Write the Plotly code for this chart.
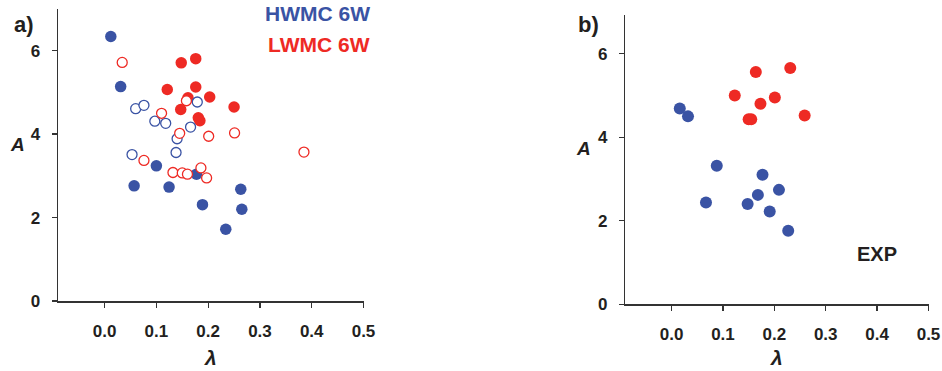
import plotly.graph_objects as go

W, H = 942, 371

# ---- data ----
a_hw_filled_x = [0.012, 0.031, 0.057, 0.100, 0.1245, 0.1775, 0.189, 0.263, 0.265, 0.234]
a_hw_filled_y = [6.34, 5.14, 2.76, 3.24, 2.73, 3.04, 2.31, 2.68, 2.20, 1.72]
a_hw_open_x = [0.053, 0.060, 0.076, 0.097, 0.118, 0.140, 0.138, 0.166, 0.179]
a_hw_open_y = [3.51, 4.61, 4.69, 4.31, 4.26, 3.89, 3.56, 4.17, 4.77]
a_lw_filled_x = [0.148, 0.176, 0.121, 0.176, 0.203, 0.161, 0.147, 0.181, 0.184, 0.250]
a_lw_filled_y = [5.71, 5.81, 5.07, 5.13, 4.89, 4.87, 4.59, 4.39, 4.32, 4.65]
a_lw_open_x = [0.034, 0.110, 0.158, 0.145, 0.201, 0.251, 0.385, 0.076, 0.132, 0.150, 0.160, 0.186, 0.197]
a_lw_open_y = [5.72, 4.50, 4.80, 4.02, 3.95, 4.03, 3.57, 3.37, 3.08, 3.07, 3.04, 3.19, 2.95]

b_hw_x = [0.016, 0.032, 0.088, 0.067, 0.148, 0.168, 0.177, 0.209, 0.191, 0.227]
b_hw_y = [4.69, 4.50, 3.32, 2.44, 2.40, 2.62, 3.10, 2.74, 2.22, 1.76]
b_lw_x = [0.164, 0.231, 0.123, 0.173, 0.201, 0.150, 0.155, 0.259]
b_lw_y = [5.56, 5.66, 5.00, 4.80, 4.95, 4.43, 4.43, 4.52]

x_ticks = [0.0, 0.1, 0.2, 0.3, 0.4, 0.5]
x_ticktext = ["0.0", "0.1", "0.2", "0.3", "0.4", "0.5"]
y_ticks = [0, 2, 4, 6]
y_ticktext = ["0", "2", "4", "6"]

BLUE = "#3A53A4"
RED = "#EE2A24"
AXC = "#333333"
FONT = "Liberation Sans, Arial, sans-serif"


def px_x(p):
    return p / W


def px_y(p):
    return 1 - p / H


fig = go.Figure()

# panel a
fig.add_trace(go.Scatter(x=a_hw_filled_x, y=a_hw_filled_y, mode="markers",
                         marker=dict(size=11.5, color=BLUE, line=dict(width=0)),
                         xaxis="x", yaxis="y", showlegend=False))
fig.add_trace(go.Scatter(x=a_lw_filled_x, y=a_lw_filled_y, mode="markers",
                         marker=dict(size=11.5, color=RED, line=dict(width=0)),
                         xaxis="x", yaxis="y", showlegend=False))
fig.add_trace(go.Scatter(x=a_hw_open_x, y=a_hw_open_y, mode="markers",
                         marker=dict(size=10, color="white", line=dict(width=1.3, color=BLUE)),
                         xaxis="x", yaxis="y", showlegend=False))
fig.add_trace(go.Scatter(x=a_lw_open_x, y=a_lw_open_y, mode="markers",
                         marker=dict(size=10, color="white", line=dict(width=1.3, color=RED)),
                         xaxis="x", yaxis="y", showlegend=False))

# panel b
fig.add_trace(go.Scatter(x=b_hw_x, y=b_hw_y, mode="markers",
                         marker=dict(size=12, color=BLUE, line=dict(width=0)),
                         xaxis="x2", yaxis="y2", showlegend=False))
fig.add_trace(go.Scatter(x=b_lw_x, y=b_lw_y, mode="markers",
                         marker=dict(size=12, color=RED, line=dict(width=0)),
                         xaxis="x2", yaxis="y2", showlegend=False))

tickfont = dict(family=FONT, size=17, color="#231f20", weight="bold")

common_x = dict(range=[-0.09, 0.5], showline=True, linecolor=AXC, linewidth=1.5,
                ticks="outside", ticklen=5, tickwidth=1.3, tickcolor=AXC,
                tickvals=x_ticks, ticktext=x_ticktext, tickfont=tickfont,
                showgrid=False, zeroline=False, ticklabelstandoff=9, fixedrange=True,
                automargin=False)
common_y = dict(showline=True, linecolor=AXC, linewidth=1.5,
                ticks="outside", ticklen=5, tickwidth=1.3, tickcolor=AXC,
                tickvals=y_ticks, ticktext=y_ticktext, tickfont=tickfont,
                showgrid=False, zeroline=False, ticklabelstandoff=8, fixedrange=True,
                automargin=False)

fig.update_layout(
    width=W, height=H,
    margin=dict(l=0, r=0, t=0, b=0, autoexpand=False),
    paper_bgcolor="white", plot_bgcolor="white",
    xaxis=dict(domain=[px_x(58), px_x(363.5)], anchor="y", **common_x),
    yaxis=dict(domain=[px_y(301), px_y(9)], range=[0, 7], anchor="x", **common_y),
    xaxis2=dict(domain=[px_x(625.3), px_x(928.5)], anchor="y2", **common_x),
    yaxis2=dict(domain=[px_y(304.3), px_y(15.3)], range=[0, 6.92], anchor="x2", **common_y),
)

ann = []


def add_text(text, x, y, size, color="#231f20", italic=False, xanchor="center"):
    ann.append(dict(text=text, x=px_x(x), y=px_y(y), xref="paper", yref="paper",
                    showarrow=False, xanchor=xanchor, yanchor="middle",
                    font=dict(family=FONT, size=size, color=color, weight="bold",
                              style="italic" if italic else "normal")))


add_text("a)", 24, 24, 22)
add_text("b)", 588, 24, 22)
add_text("A", 17, 144, 19, italic=True)
add_text("A", 583, 148, 19, italic=True)
add_text("λ", 210, 357, 21, italic=True)
add_text("λ", 776, 357, 21, italic=True)
add_text("HWMC 6W", 372, 14, 21, color=BLUE, xanchor="right")
add_text("LWMC 6W", 372, 44.5, 21, color=RED, xanchor="right")
add_text("EXP", 877, 254, 20)

fig.update_layout(annotations=ann)

fig.write_html(
    "out.html",
    config={"displayModeBar": False, "staticPlot": True},
    post_script="document.body.style.margin='0';document.body.style.overflow='hidden';",
)
